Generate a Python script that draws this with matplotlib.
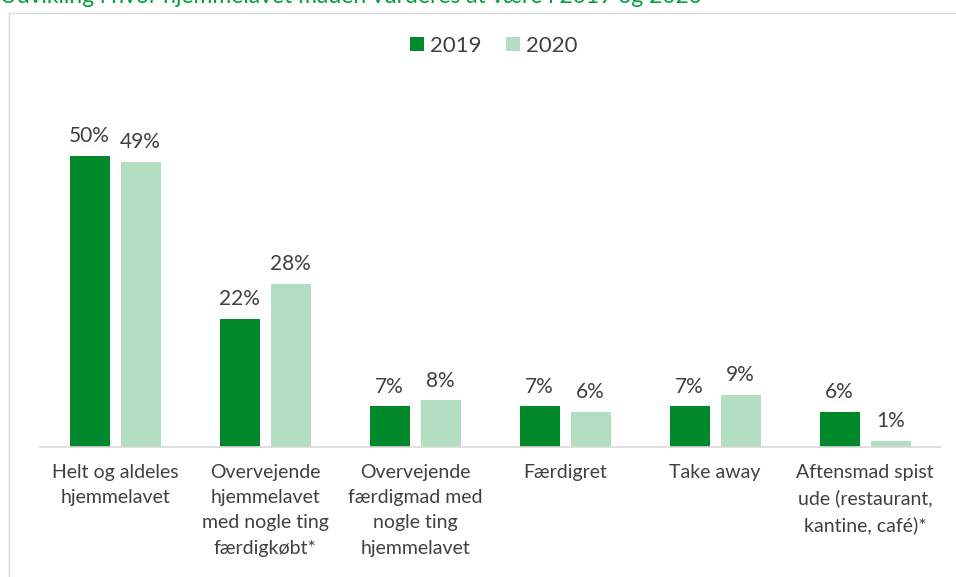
import matplotlib
matplotlib.use("Agg")
import matplotlib.pyplot as plt
from matplotlib.patches import Rectangle
import numpy as np

categories = ["Helt og aldeles\nhjemmelavet",
              "Overvejende\nhjemmelavet\nmed nogle ting\nfærdigkøbt*",
              "Overvejende\nfærdigmad med\nnogle ting\nhjemmelavet",
              "Færdigret",
              "Take away",
              "Aftensmad spist\nude (restaurant,\nkantine, café)*"]
v2019 = [50, 22, 7, 7, 7, 6]
v2020 = [49, 28, 8, 6, 9, 1]
series = ["2019", "2020"]
title = "Udvikling i hvor hjemmelavet maden vurderes at være i 2019 og 2020"

c19 = "#00882B"
c20 = "#B3DEC1"
tc = "#404040"
font = "Lato"

W, H = 956, 577
fig = plt.figure(figsize=(W/100, H/100), dpi=100)
plt.rcParams['font.family'] = [font, 'DejaVu Sans']

# outer frame
fig.add_artist(Rectangle((8.5/W, -0.1), 1.2, (H-12.5)/H + 0.1, transform=fig.transFigure,
                         fill=False, edgecolor="#D9D9D9", lw=1))
fig.text(0/W, 1 - 3/H, title, color="#00A040", fontsize=16.5, va="baseline", ha="left")

ax = fig.add_axes([40/W, (H-447)/H, 900/W, 349/H])
x = np.arange(len(categories))
off = 25.5/150
bw = 40/150
b1 = ax.bar(x - off, v2019, bw, color=c19, label=series[0])
b2 = ax.bar(x + off, v2020, bw, color=c20, label=series[1])
ax.set_xlim(-0.5, len(categories) - 0.5)
ax.set_ylim(0, 60)
for s in ["top", "right", "left"]:
    ax.spines[s].set_visible(False)
ax.spines["bottom"].set_color("#D9D9D9")
ax.spines["bottom"].set_linewidth(1.2)
ax.set_yticks([])
ax.set_xticks(x)
ax.set_xticklabels(categories, fontsize=14, color=tc, linespacing=1.6, va="top")
ax.tick_params(axis="x", length=0, pad=12)

for bars, vals in ((b1, v2019), (b2, v2020)):
    for r, v in zip(bars, vals):
        ax.annotate(f"{v}%", (r.get_x() + r.get_width()/2, v), xytext=(0, 7),
                    textcoords="offset points", ha="center", va="bottom",
                    fontsize=15, color=tc)

leg = fig.legend(handles=[b1, b2], labels=series, loc="center", bbox_to_anchor=(494/W, 1 - 46/H),
                 ncol=2, frameon=False, fontsize=16, handlelength=0.6, handleheight=0.6,
                 handletextpad=0.3, columnspacing=1.1)
for t in leg.get_texts():
    t.set_color(tc)

fig.savefig("out.png", dpi=100)
